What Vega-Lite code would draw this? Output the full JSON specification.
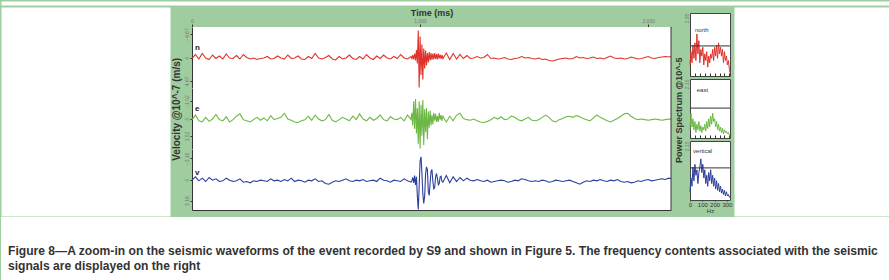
{
  "$schema": "https://vega.github.io/schema/vega-lite/v6.json",
  "background": "#9fcd9f",
  "padding": 0,
  "spacing": 0,
  "config": {
    "view": {"stroke": "transparent", "strokeWidth": 0},
    "font": "Liberation Sans",
    "axis": {"grid": false, "labelFont": "Liberation Sans", "titleFont": "Liberation Sans"},
    "concat": {"spacing": 0}
  },
  "datasets": {
    "wave": [
      {"t":0,"n":0.2,"e":0.1,"v":0.1},{"t":15,"n":-0.6,"e":-0.3,"v":-0.4},{"t":30,"n":0.3,"e":0.2,"v":0.2},{"t":45,"n":-0.8,"e":0.3,"v":-0.2},{"t":60,"n":0.1,"e":-0.1,"v":0.3},
      {"t":75,"n":0.4,"e":0.25,"v":-0.3},{"t":90,"n":-0.5,"e":0.05,"v":0.1},{"t":105,"n":0.2,"e":-0.35,"v":-0.1},{"t":120,"n":-0.3,"e":0.1,"v":0.3},{"t":135,"n":0.3,"e":0.2,"v":0.2},
      {"t":150,"n":-0.7,"e":-0.15,"v":-0.2},{"t":165,"n":0.1,"e":0.3,"v":0.1},{"t":180,"n":0.2,"e":0.1,"v":0.3},{"t":195,"n":-0.4,"e":-0.2,"v":0.2},{"t":210,"n":0.3,"e":-0.4,"v":-0.1},
      {"t":225,"n":-0.6,"e":0.1,"v":0.4},{"t":240,"n":0.0,"e":0.2,"v":0.3},{"t":255,"n":0.3,"e":0.3,"v":0.5},{"t":270,"n":0.1,"e":0.1,"v":0.2},{"t":285,"n":0.4,"e":-0.1,"v":0.3},
      {"t":300,"n":0.2,"e":0.15,"v":0.1},{"t":315,"n":0.1,"e":-0.05,"v":0.2},{"t":330,"n":-0.2,"e":0.2,"v":0.3},{"t":345,"n":0.3,"e":-0.25,"v":-0.1},{"t":360,"n":0.2,"e":0.1,"v":0.2},
      {"t":375,"n":-0.3,"e":0.0,"v":0.1},{"t":390,"n":0.1,"e":-0.1,"v":0.3},{"t":405,"n":0.3,"e":-0.45,"v":0.0},{"t":420,"n":-0.5,"e":0.05,"v":0.2},{"t":435,"n":0.2,"e":0.15,"v":-0.2},
      {"t":450,"n":0.1,"e":0.3,"v":0.3},{"t":465,"n":-0.3,"e":0.35,"v":0.1},{"t":480,"n":0.3,"e":0.2,"v":0.2},{"t":495,"n":0.4,"e":0.1,"v":0.4},{"t":510,"n":-0.2,"e":-0.2,"v":0.1},
      {"t":525,"n":0.2,"e":0.15,"v":0.2},{"t":540,"n":-0.8,"e":-0.3,"v":-0.1},{"t":555,"n":0.1,"e":0.05,"v":0.3},{"t":570,"n":0.3,"e":0.2,"v":0.2},{"t":585,"n":0.0,"e":0.1,"v":0.6},
      {"t":600,"n":-0.4,"e":-0.35,"v":0.7},{"t":615,"n":0.3,"e":0.15,"v":0.4},{"t":630,"n":0.5,"e":0.3,"v":0.2},{"t":645,"n":-0.2,"e":0.1,"v":0.3},{"t":660,"n":0.3,"e":-0.1,"v":0.1},
      {"t":675,"n":0.1,"e":0.05,"v":-0.1},{"t":690,"n":-0.5,"e":0.2,"v":0.2},{"t":705,"n":0.2,"e":-0.2,"v":0.3},{"t":720,"n":0.4,"e":0.1,"v":0.1},{"t":735,"n":-0.2,"e":-0.4,"v":0.2},
      {"t":750,"n":0.3,"e":0.05,"v":0.0},{"t":765,"n":-0.6,"e":0.2,"v":0.3},{"t":780,"n":0.1,"e":-0.1,"v":0.2},{"t":795,"n":0.4,"e":0.15,"v":0.1},{"t":810,"n":-0.3,"e":0.0,"v":0.3},
      {"t":825,"n":0.2,"e":-0.3,"v":-0.2},{"t":840,"n":-0.5,"e":0.1,"v":0.1},{"t":855,"n":0.1,"e":0.2,"v":0.2},{"t":870,"n":0.3,"e":-0.15,"v":0.4},{"t":885,"n":-0.2,"e":0.05,"v":0.1},
      {"t":900,"n":0.2,"e":0.1,"v":0.2},{"t":915,"n":-0.6,"e":-0.1,"v":0.3},{"t":930,"n":0.1,"e":0.2,"v":-0.1},{"t":945,"n":0.3,"e":-0.3,"v":0.2},{"t":960,"n":-0.2,"e":0.1,"v":0.4},
      {"t":964,"n":0.2,"e":-0.5,"v":0.2},{"t":968,"n":-0.5,"e":0.6,"v":-0.3},{"t":972,"n":0.4,"e":-1.5,"v":0.5},{"t":976,"n":-0.8,"e":0.9,"v":-0.6},{"t":980,"n":0.6,"e":-1.7,"v":0.8},
      {"t":984,"n":-1.5,"e":1.3,"v":-0.4},{"t":988,"n":1.2,"e":-0.9,"v":2.5},{"t":992,"n":-5.4,"e":2.2,"v":4.5},{"t":996,"n":6.0,"e":-1.5,"v":1.0},{"t":1000,"n":-4.2,"e":2.6,"v":-2.8},
      {"t":1004,"n":3.5,"e":-1.2,"v":-3.4},{"t":1008,"n":-2.6,"e":1.5,"v":-1.0},{"t":1012,"n":4.4,"e":-1.6,"v":2.2},{"t":1016,"n":-1.8,"e":2.3,"v":3.6},{"t":1020,"n":2.2,"e":-0.8,"v":2.5},
      {"t":1024,"n":-1.4,"e":1.2,"v":-0.8},{"t":1028,"n":1.6,"e":-0.9,"v":-1.9},{"t":1032,"n":-0.9,"e":1.8,"v":-1.5},{"t":1036,"n":1.0,"e":-0.6,"v":1.8},{"t":1040,"n":-1.1,"e":0.8,"v":2.4},
      {"t":1044,"n":0.6,"e":-0.7,"v":0.5},{"t":1048,"n":-0.9,"e":0.6,"v":-1.2},{"t":1052,"n":0.5,"e":-0.3,"v":-1.5},{"t":1056,"n":-0.8,"e":0.5,"v":0.3},{"t":1060,"n":0.4,"e":-0.5,"v":1.4},
      {"t":1064,"n":-0.9,"e":0.2,"v":1.2},{"t":1068,"n":0.3,"e":-0.4,"v":-0.4},{"t":1072,"n":-0.7,"e":0.3,"v":-0.9},{"t":1076,"n":0.4,"e":-0.2,"v":-0.2},{"t":1080,"n":-0.8,"e":0.3,"v":0.8},
      {"t":1084,"n":0.2,"e":-0.5,"v":0.6},{"t":1088,"n":-0.6,"e":0.1,"v":-0.4},{"t":1092,"n":0.3,"e":-0.3,"v":-0.5},{"t":1096,"n":-0.5,"e":0.2,"v":0.3},{"t":1100,"n":0.2,"e":-0.2,"v":0.4},
      {"t":1115,"n":-0.9,"e":0.3,"v":-0.6},{"t":1130,"n":0.4,"e":-0.2,"v":0.5},{"t":1145,"n":-0.8,"e":0.2,"v":-0.4},{"t":1160,"n":0.3,"e":-0.3,"v":0.3},{"t":1175,"n":-0.6,"e":-0.45,"v":-0.3},
      {"t":1190,"n":0.2,"e":0.0,"v":0.2},{"t":1205,"n":-0.4,"e":0.1,"v":-0.2},{"t":1220,"n":0.2,"e":0.15,"v":0.1},{"t":1235,"n":0.1,"e":0.05,"v":0.2},{"t":1250,"n":-0.2,"e":0.2,"v":0.0},
      {"t":1265,"n":0.1,"e":0.3,"v":0.2},{"t":1280,"n":0.0,"e":0.35,"v":0.3},{"t":1295,"n":-0.6,"e":0.25,"v":0.1},{"t":1310,"n":0.2,"e":0.1,"v":0.4},{"t":1325,"n":0.1,"e":-0.1,"v":0.3},
      {"t":1340,"n":0.3,"e":0.05,"v":0.2},{"t":1355,"n":0.2,"e":-0.15,"v":0.1},{"t":1370,"n":0.0,"e":0.1,"v":0.2},{"t":1385,"n":0.3,"e":0.05,"v":0.4},{"t":1400,"n":0.4,"e":-0.2,"v":0.3},
      {"t":1415,"n":0.2,"e":-0.1,"v":0.1},{"t":1430,"n":0.1,"e":0.1,"v":0.2},{"t":1445,"n":-0.2,"e":0.2,"v":-0.1},{"t":1460,"n":0.1,"e":0.05,"v":0.0},{"t":1475,"n":0.0,"e":-0.1,"v":0.2},
      {"t":1490,"n":0.2,"e":0.15,"v":0.3},{"t":1505,"n":0.3,"e":0.2,"v":0.2},{"t":1520,"n":0.1,"e":0.1,"v":0.3},{"t":1535,"n":0.4,"e":-0.1,"v":0.1},{"t":1550,"n":0.3,"e":-0.3,"v":0.2},
      {"t":1565,"n":0.6,"e":-0.1,"v":0.4},{"t":1580,"n":0.7,"e":0.2,"v":0.3},{"t":1595,"n":0.5,"e":0.3,"v":0.1},{"t":1610,"n":0.3,"e":0.1,"v":0.2},{"t":1625,"n":0.2,"e":0.0,"v":0.3},
      {"t":1640,"n":0.1,"e":-0.15,"v":0.2},{"t":1655,"n":0.3,"e":-0.2,"v":0.1},{"t":1670,"n":0.2,"e":-0.1,"v":0.3},{"t":1685,"n":-0.2,"e":-0.25,"v":0.5},{"t":1700,"n":0.1,"e":-0.15,"v":0.7},
      {"t":1715,"n":0.0,"e":0.0,"v":0.4},{"t":1730,"n":0.2,"e":0.1,"v":0.2},{"t":1745,"n":0.1,"e":0.2,"v":0.3},{"t":1760,"n":-0.1,"e":-0.05,"v":0.1},{"t":1775,"n":0.2,"e":-0.3,"v":0.2},
      {"t":1790,"n":0.1,"e":-0.1,"v":0.0},{"t":1805,"n":0.3,"e":0.05,"v":0.2},{"t":1820,"n":0.0,"e":0.2,"v":0.3},{"t":1835,"n":-0.3,"e":0.3,"v":0.1},{"t":1850,"n":0.1,"e":0.15,"v":0.2},
      {"t":1865,"n":0.2,"e":0.0,"v":0.0},{"t":1880,"n":0.1,"e":-0.2,"v":0.3},{"t":1895,"n":0.3,"e":-0.4,"v":0.4},{"t":1910,"n":0.2,"e":-0.45,"v":0.3},{"t":1925,"n":-0.1,"e":-0.2,"v":0.5},
      {"t":1940,"n":0.1,"e":0.0,"v":0.4},{"t":1955,"n":0.3,"e":0.1,"v":0.2},{"t":1970,"n":0.2,"e":0.05,"v":0.3},{"t":1985,"n":0.0,"e":0.1,"v":0.1},{"t":2000,"n":-0.2,"e":0.15,"v":0.0},
      {"t":2015,"n":0.1,"e":0.1,"v":0.2},{"t":2030,"n":0.2,"e":0.05,"v":0.1},{"t":2045,"n":0.0,"e":0.1,"v":0.0},{"t":2060,"n":-0.1,"e":0.15,"v":-0.1},{"t":2075,"n":-0.2,"e":0.1,"v":0.0},
      {"t":2090,"n":-0.1,"e":0.05,"v":-0.2},{"t":2100,"n":-0.2,"e":0.05,"v":-0.1}
    ],
    "spec": [
      {"f":0,"north":0.5,"east":0.3,"vertical":0.3},{"f":8,"north":1.1,"east":0.9,"vertical":0.8},{"f":16,"north":0.6,"east":0.4,"vertical":0.5},{"f":24,"north":1.4,"east":0.7,"vertical":1.2},
      {"f":32,"north":0.8,"east":0.3,"vertical":0.7},{"f":40,"north":1.5,"east":0.6,"vertical":1.3},{"f":48,"north":0.7,"east":0.2,"vertical":0.9},{"f":56,"north":1.9,"east":0.5,"vertical":1.1},
      {"f":64,"north":1.0,"east":0.3,"vertical":0.6},{"f":72,"north":1.6,"east":0.6,"vertical":1.0},{"f":80,"north":0.6,"east":0.25,"vertical":1.2},{"f":88,"north":1.2,"east":0.45,"vertical":1.5},
      {"f":96,"north":0.9,"east":0.2,"vertical":1.0},{"f":104,"north":1.3,"east":0.4,"vertical":1.3},{"f":112,"north":0.5,"east":0.3,"vertical":0.8},{"f":120,"north":1.0,"east":0.5,"vertical":1.1},
      {"f":128,"north":0.7,"east":0.25,"vertical":0.6},{"f":136,"north":1.1,"east":0.6,"vertical":0.9},{"f":144,"north":0.4,"east":0.35,"vertical":0.5},{"f":152,"north":0.9,"east":0.7,"vertical":1.0},
      {"f":160,"north":0.6,"east":0.4,"vertical":0.7},{"f":168,"north":1.0,"east":0.8,"vertical":1.1},{"f":176,"north":0.8,"east":0.5,"vertical":0.6},{"f":184,"north":1.2,"east":0.9,"vertical":0.9},
      {"f":192,"north":0.7,"east":0.6,"vertical":0.5},{"f":200,"north":1.3,"east":0.7,"vertical":0.8},{"f":208,"north":0.9,"east":0.4,"vertical":0.4},{"f":216,"north":1.4,"east":0.6,"vertical":0.7},
      {"f":224,"north":0.8,"east":0.3,"vertical":0.35},{"f":232,"north":1.5,"east":0.5,"vertical":0.6},{"f":240,"north":1.0,"east":0.25,"vertical":0.3},{"f":248,"north":1.3,"east":0.4,"vertical":0.5},
      {"f":256,"north":0.9,"east":0.2,"vertical":0.25},{"f":264,"north":1.2,"east":0.35,"vertical":0.4},{"f":272,"north":0.6,"east":0.15,"vertical":0.2},{"f":280,"north":1.1,"east":0.3,"vertical":0.35},
      {"f":288,"north":0.7,"east":0.2,"vertical":0.15},{"f":296,"north":0.9,"east":0.25,"vertical":0.3},{"f":304,"north":0.5,"east":0.15,"vertical":0.15},{"f":312,"north":0.7,"east":0.2,"vertical":0.2},
      {"f":320,"north":0.3,"east":0.1,"vertical":0.1},{"f":325,"north":0.15,"east":0.05,"vertical":0.1}
    ],
    "caption": [
      {"line":1,"text":"Figure 8—A zoom-in on the seismic waveforms of the event recorded by S9 and shown in Figure 5. The frequency contents associated with the seismic"},
      {"line":2,"text":"signals are displayed on the right"}
    ]
  },
  "vconcat": [
    {"width": 889, "height": 4, "view": {"fill": "white", "stroke": "transparent"}, "data": {"values": []}, "mark": {"type": "point", "opacity": 0}, "encoding": {}},
    {
      "spacing": 0,
      "hconcat": [
        {"width": 169, "height": 209, "view": {"fill": "white", "stroke": "transparent"}, "data": {"values": []}, "mark": {"type": "point", "opacity": 0}, "encoding": {}},
        {
          "title": {"text": "Velocity @10^-7 (m/s)", "orient": "left", "anchor": "middle", "fontSize": 10, "fontWeight": "bold", "color": "#333", "offset": 2, "font": "Liberation Sans"},
          "spacing": 0,
          "bounds": "flush",
          "vconcat": [
            {
              "width": 479, "height": 20,
              "data": {"values": []},
              "mark": {"type": "point", "opacity": 0},
              "encoding": {
                "x": {"datum": 0, "type": "quantitative", "scale": {"domain": [0, 2100], "nice": false, "zero": false},
                      "axis": {"orient": "top", "offset": -20, "values": [0, 1000, 2000], "title": "Time (ms)", "titleFontSize": 9, "titleFontWeight": "bold", "titleColor": "#333", "titlePadding": 1, "labelFontSize": 5, "labelColor": "#777", "labelPadding": 1, "labelFlush": false, "tickSize": 3, "tickColor": "#333", "domainColor": "#333"}}
              }
            },
            {
              "width": 479, "height": 61,
              "data": {"name": "wave"},
              "view": {"fill": "white", "stroke": "transparent"},
              "layer": [
                {"mark": {"type": "line", "color": "#e0322a", "strokeWidth": 1.1},
                 "encoding": {
                   "x": {"field": "t", "type": "quantitative", "scale": {"domain": [0, 2100], "nice": false, "zero": false},
                         "axis": {"orient": "top", "labels": false, "ticks": false, "domain": false, "title": null}},
                   "y": {"field": "n", "type": "quantitative", "scale": {"domain": [-6.1, 6.1], "reverse": true, "nice": false, "zero": false},
                         "axis": {"orient": "left", "values": [-4.67, 0, 4.67], "format": ".2~f", "labelAngle": 270, "labelAlign": "center", "labelBaseline": "bottom", "labelFontSize": 5, "labelColor": "#777", "labelPadding": 1, "tickSize": 2, "tickColor": "#333", "domainColor": "#333", "title": null}}
                 }},
                {"data": {"values": [{}]}, "mark": {"type": "rule", "color": "#333"},
                 "encoding": {"x": {"datum": 2100, "type": "quantitative", "axis": {"orient": "top", "labels": false, "ticks": false, "domain": false, "title": null}}}},
                {"data": {"values": [{}]}, "mark": {"type": "text", "fontSize": 8, "fontWeight": "bold", "color": "#222", "align": "left", "baseline": "middle"},
                 "encoding": {
                   "x": {"datum": 13, "type": "quantitative", "axis": {"orient": "top", "labels": false, "ticks": false, "domain": false, "title": null}},
                   "y": {"datum": -2.0, "type": "quantitative",
                         "axis": {"orient": "left", "values": [-4.67, 0, 4.67], "format": ".2~f", "labelAngle": 270, "labelAlign": "center", "labelBaseline": "bottom", "labelFontSize": 5, "labelColor": "#777", "labelPadding": 1, "tickSize": 2, "tickColor": "#333", "domainColor": "#333", "title": null}},
                   "text": {"value": "n"}}}
              ]
            },
            {
              "width": 479, "height": 61,
              "data": {"name": "wave"},
              "view": {"fill": "white", "stroke": "transparent"},
              "layer": [
                {"mark": {"type": "line", "color": "#6cb844", "strokeWidth": 1.1},
                 "encoding": {
                   "x": {"field": "t", "type": "quantitative", "scale": {"domain": [0, 2100], "nice": false, "zero": false},
                         "axis": {"orient": "bottom", "labels": false, "ticks": false, "domain": false, "title": null}},
                   "y": {"field": "e", "type": "quantitative", "scale": {"domain": [-2.65, 2.65], "reverse": true, "nice": false, "zero": false},
                         "axis": {"orient": "left", "values": [-1.52, 0, 1.52], "format": ".2~f", "labelAngle": 270, "labelAlign": "center", "labelBaseline": "bottom", "labelFontSize": 5, "labelColor": "#777", "labelPadding": 1, "tickSize": 2, "tickColor": "#333", "domainColor": "#333", "title": null}}
                 }},
                {"data": {"values": [{}]}, "mark": {"type": "rule", "color": "#333"},
                 "encoding": {"x": {"datum": 2100, "type": "quantitative", "axis": {"orient": "bottom", "labels": false, "ticks": false, "domain": false, "title": null}}}},
                {"data": {"values": [{}]}, "mark": {"type": "text", "fontSize": 8, "fontWeight": "bold", "color": "#222", "align": "left", "baseline": "middle"},
                 "encoding": {
                   "x": {"datum": 13, "type": "quantitative", "axis": {"orient": "bottom", "labels": false, "ticks": false, "domain": false, "title": null}},
                   "y": {"datum": -0.85, "type": "quantitative",
                         "axis": {"orient": "left", "values": [-1.52, 0, 1.52], "format": ".2~f", "labelAngle": 270, "labelAlign": "center", "labelBaseline": "bottom", "labelFontSize": 5, "labelColor": "#777", "labelPadding": 1, "tickSize": 2, "tickColor": "#333", "domainColor": "#333", "title": null}},
                   "text": {"value": "e"}}}
              ]
            },
            {
              "width": 479, "height": 61,
              "data": {"name": "wave"},
              "view": {"fill": "white", "stroke": "transparent"},
              "layer": [
                {"mark": {"type": "line", "color": "#2b3f9e", "strokeWidth": 1.1},
                 "encoding": {
                   "x": {"field": "t", "type": "quantitative", "scale": {"domain": [0, 2100], "nice": false, "zero": false},
                         "axis": {"orient": "bottom", "labels": false, "ticks": false, "title": null, "domainColor": "#333"}},
                   "y": {"field": "v", "type": "quantitative", "scale": {"domain": [-4.575, 4.575], "reverse": true, "nice": false, "zero": false},
                         "axis": {"orient": "left", "values": [-3.16, 0, 3.16], "format": ".2~f", "labelAngle": 270, "labelAlign": "center", "labelBaseline": "bottom", "labelFontSize": 5, "labelColor": "#777", "labelPadding": 1, "tickSize": 2, "tickColor": "#333", "domainColor": "#333", "title": null}}
                 }},
                {"data": {"values": [{}]}, "mark": {"type": "rule", "color": "#333"},
                 "encoding": {"x": {"datum": 2100, "type": "quantitative", "axis": {"orient": "bottom", "labels": false, "ticks": false, "title": null, "domainColor": "#333"}}}},
                {"data": {"values": [{}]}, "mark": {"type": "text", "fontSize": 8, "fontWeight": "bold", "color": "#222", "align": "left", "baseline": "middle"},
                 "encoding": {
                   "x": {"datum": 13, "type": "quantitative", "axis": {"orient": "bottom", "labels": false, "ticks": false, "title": null, "domainColor": "#333"}},
                   "y": {"datum": -1.05, "type": "quantitative",
                         "axis": {"orient": "left", "values": [-3.16, 0, 3.16], "format": ".2~f", "labelAngle": 270, "labelAlign": "center", "labelBaseline": "bottom", "labelFontSize": 5, "labelColor": "#777", "labelPadding": 1, "tickSize": 2, "tickColor": "#333", "domainColor": "#333", "title": null}},
                   "text": {"value": "v"}}}
              ]
            }
          ]
        },
        {
          "title": {"text": "Power Spectrum @10^-5", "orient": "left", "anchor": "middle", "fontSize": 9, "fontWeight": "bold", "color": "#333", "offset": 0, "font": "Liberation Sans"},
          "spacing": 3,
          "bounds": "flush",
          "vconcat": [
            {"width": 40, "height": 3, "data": {"values": []}, "mark": {"type": "point", "opacity": 0}, "encoding": {}},
            {
              "width": 40, "height": 63,
              "data": {"name": "spec"},
              "view": {"fill": "white", "stroke": "#444", "strokeWidth": 1},
              "layer": [
                {"mark": {"type": "line", "color": "#e0322a", "strokeWidth": 1},
                 "encoding": {
                   "x": {"field": "f", "type": "quantitative", "scale": {"domain": [0, 325], "nice": false, "zero": false},
                         "axis": {"orient": "bottom", "values": [0, 40, 80, 120, 160, 200, 240, 280, 320], "labels": false, "tickSize": -3, "tickColor": "#333", "domain": false, "title": null}},
                   "y": {"field": "north", "type": "quantitative", "scale": {"domain": [0, 2.85], "nice": false},
                         "axis": {"orient": "left", "values": [2.85], "format": ".2f", "labelAngle": 270, "labelAlign": "right", "labelBaseline": "bottom", "labelFontSize": 5, "labelColor": "#777", "labelPadding": 1, "ticks": false, "domain": false, "title": null}}
                 }},
                {"data": {"values": [{}]}, "mark": {"type": "rule", "color": "#333"},
                 "encoding": {"y": {"datum": 1.36, "type": "quantitative",
                         "axis": {"orient": "left", "values": [2.85], "format": ".2f", "labelAngle": 270, "labelAlign": "right", "labelBaseline": "bottom", "labelFontSize": 5, "labelColor": "#777", "labelPadding": 1, "ticks": false, "domain": false, "title": null}}}},
                {"data": {"values": [{}]}, "mark": {"type": "text", "fontSize": 6, "color": "#333", "align": "left", "baseline": "middle"},
                 "encoding": {
                   "x": {"datum": 40, "type": "quantitative", "axis": {"orient": "bottom", "values": [0, 40, 80, 120, 160, 200, 240, 280, 320], "labels": false, "tickSize": -3, "tickColor": "#333", "domain": false, "title": null}},
                   "y": {"datum": 2.08, "type": "quantitative", "axis": {"orient": "left", "values": [2.85], "format": ".2f", "labelAngle": 270, "labelAlign": "right", "labelBaseline": "bottom", "labelFontSize": 5, "labelColor": "#777", "labelPadding": 1, "ticks": false, "domain": false, "title": null}},
                   "text": {"value": "north"}}}
              ]
            },
            {
              "width": 40, "height": 59,
              "data": {"name": "spec"},
              "view": {"fill": "white", "stroke": "#444", "strokeWidth": 1},
              "layer": [
                {"mark": {"type": "line", "color": "#6cb844", "strokeWidth": 1},
                 "encoding": {
                   "x": {"field": "f", "type": "quantitative", "scale": {"domain": [0, 325], "nice": false, "zero": false},
                         "axis": {"orient": "bottom", "values": [0, 40, 80, 120, 160, 200, 240, 280, 320], "labels": false, "tickSize": -3, "tickColor": "#333", "domain": false, "title": null}},
                   "y": {"field": "east", "type": "quantitative", "scale": {"domain": [0, 2.15], "nice": false},
                         "axis": {"orient": "left", "values": [2.15], "format": ".2f", "labelAngle": 270, "labelAlign": "right", "labelBaseline": "bottom", "labelFontSize": 5, "labelColor": "#777", "labelPadding": 1, "ticks": false, "domain": false, "title": null}}
                 }},
                {"data": {"values": [{}]}, "mark": {"type": "rule", "color": "#333"},
                 "encoding": {"y": {"datum": 1.09, "type": "quantitative",
                         "axis": {"orient": "left", "values": [2.15], "format": ".2f", "labelAngle": 270, "labelAlign": "right", "labelBaseline": "bottom", "labelFontSize": 5, "labelColor": "#777", "labelPadding": 1, "ticks": false, "domain": false, "title": null}}}},
                {"data": {"values": [{}]}, "mark": {"type": "text", "fontSize": 6, "color": "#333", "align": "left", "baseline": "middle"},
                 "encoding": {
                   "x": {"datum": 55, "type": "quantitative", "axis": {"orient": "bottom", "values": [0, 40, 80, 120, 160, 200, 240, 280, 320], "labels": false, "tickSize": -3, "tickColor": "#333", "domain": false, "title": null}},
                   "y": {"datum": 1.75, "type": "quantitative", "axis": {"orient": "left", "values": [2.15], "format": ".2f", "labelAngle": 270, "labelAlign": "right", "labelBaseline": "bottom", "labelFontSize": 5, "labelColor": "#777", "labelPadding": 1, "ticks": false, "domain": false, "title": null}},
                   "text": {"value": "east"}}}
              ]
            },
            {
              "width": 40, "height": 59,
              "data": {"name": "spec"},
              "view": {"fill": "white", "stroke": "#444", "strokeWidth": 1},
              "layer": [
                {"mark": {"type": "line", "color": "#2b3f9e", "strokeWidth": 1},
                 "encoding": {
                   "x": {"field": "f", "type": "quantitative", "scale": {"domain": [0, 325], "nice": false, "zero": false},
                         "axis": {"orient": "bottom", "values": [0, 100, 200, 300], "labelFontSize": 6, "labelColor": "#333", "labelPadding": 0, "labelFlush": false, "labelOverlap": false, "tickSize": 1, "tickColor": "#333", "domain": false, "title": "Hz", "titleFontSize": 6, "titleFontWeight": "normal", "titleColor": "#333", "titlePadding": 0}},
                   "y": {"field": "vertical", "type": "quantitative", "scale": {"domain": [0, 2.15], "nice": false},
                         "axis": {"orient": "left", "values": [2.15], "format": ".2f", "labelAngle": 270, "labelAlign": "right", "labelBaseline": "bottom", "labelFontSize": 5, "labelColor": "#777", "labelPadding": 1, "ticks": false, "domain": false, "title": null}}
                 }},
                {"data": {"values": [{}]}, "mark": {"type": "rule", "color": "#333"},
                 "encoding": {"y": {"datum": 1.17, "type": "quantitative",
                         "axis": {"orient": "left", "values": [2.15], "format": ".2f", "labelAngle": 270, "labelAlign": "right", "labelBaseline": "bottom", "labelFontSize": 5, "labelColor": "#777", "labelPadding": 1, "ticks": false, "domain": false, "title": null}}}},
                {"data": {"values": [{}]}, "mark": {"type": "text", "fontSize": 6, "color": "#333", "align": "left", "baseline": "middle"},
                 "encoding": {
                   "x": {"datum": 25, "type": "quantitative", "axis": {"orient": "bottom", "values": [0, 100, 200, 300], "labelFontSize": 6, "labelColor": "#333", "labelPadding": 0, "labelFlush": false, "labelOverlap": false, "tickSize": 1, "tickColor": "#333", "domain": false, "title": "Hz", "titleFontSize": 6, "titleFontWeight": "normal", "titleColor": "#333", "titlePadding": 0}},
                   "y": {"datum": 1.79, "type": "quantitative", "axis": {"orient": "left", "values": [2.15], "format": ".2f", "labelAngle": 270, "labelAlign": "right", "labelBaseline": "bottom", "labelFontSize": 5, "labelColor": "#777", "labelPadding": 1, "ticks": false, "domain": false, "title": null}},
                   "text": {"value": "vertical"}}}
              ]
            }
          ]
        },
        {"width": 158, "height": 209, "view": {"fill": "white", "stroke": "transparent"}, "data": {"values": []}, "mark": {"type": "point", "opacity": 0}, "encoding": {}}
      ]
    },
    {
      "width": 889, "height": 68,
      "data": {"name": "caption"},
      "view": {"fill": "white", "stroke": "transparent"},
      "mark": {"type": "text", "align": "left", "baseline": "middle", "font": "Liberation Sans", "fontSize": 12.1, "fontWeight": "bold", "color": "#333"},
      "encoding": {
        "x": {"datum": 7, "type": "quantitative", "scale": {"domain": [0, 889], "nice": false, "zero": false}, "axis": null},
        "y": {"field": "line", "type": "quantitative", "scale": {"domain": [-1.27, 3.27], "reverse": true, "nice": false, "zero": false}, "axis": null},
        "text": {"field": "text"}
      }
    }
  ]
}
